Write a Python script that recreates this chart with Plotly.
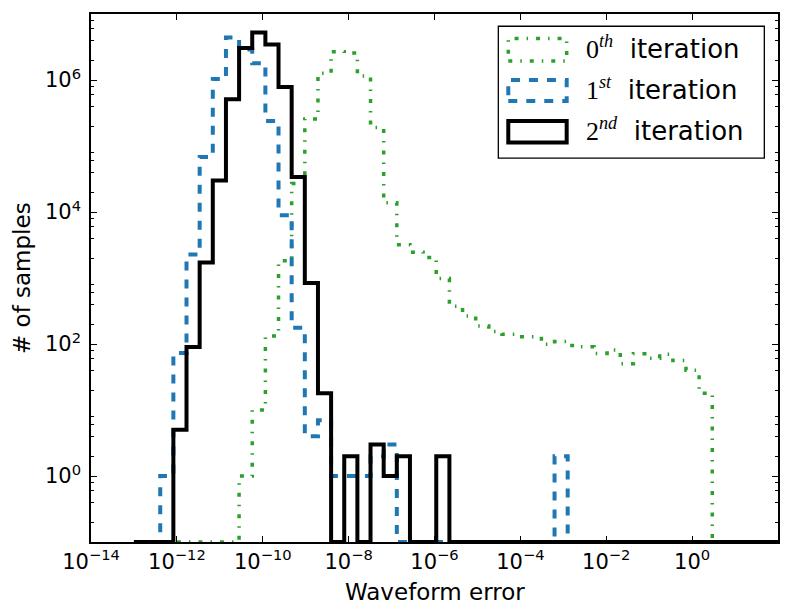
import numpy as np
import plotly.graph_objects as go

# ---- histogram bins (log10 of first / last edge, number of bins) ----
LOG_EDGE_START = -13.0
LOG_EDGE_STOP = 2.0
N_BINS = 49

# ---- counts per bin ----
counts_iter0 = [0, 0, 0, 0, 0, 0, 0, 0, 1, 10, 132, 1820, 27000, 256000, 1270000,
                2670000, 2570000, 1150000, 190000, 13800, 3190, 2460, 2050, 980, 374,
                265, 188, 154, 140, 129, 129, 99, 109, 95, 91, 72, 81, 50, 71, 61, 70,
                56, 40, 18, 0, 0, 0, 0, 0]
counts_iter1 = [0, 0, 1, 73, 2270, 68000, 1040000, 4400000, 2900000, 1800000, 240000,
                8950, 176, 4, 7, 1, 1, 1, 2, 3, 0, 0, 0, 0, 0, 0, 0, 0, 0, 0, 0, 0, 2,
                0, 0, 0, 0, 0, 0, 0, 0, 0, 0, 0, 0, 0, 0, 0, 0]
counts_iter2 = [0, 0, 0, 5, 90, 1720, 30000, 510000, 3060000, 5260000, 3440000, 780000,
                34000, 840, 18, 0, 2, 0, 3, 1, 2, 0, 0, 2, 0, 0, 0, 0, 0, 0, 0, 0, 0,
                0, 0, 0, 0, 0, 0, 0, 0, 0, 0, 0, 0, 0, 0, 0, 0]

x_tick_exponents = [-14, -12, -10, -8, -6, -4, -2, 0]
y_tick_exponents = [0, 2, 4, 6]

series_names = ["0th iteration", "1st iteration", "2nd iteration"]

edges = 10 ** np.linspace(LOG_EDGE_START, LOG_EDGE_STOP, N_BINS + 1)
Y_FLOOR = 0.1  # bottom of the y range; empty bins sit on the axis


def step_path(counts):
    xs = [edges[0]]
    ys = [Y_FLOOR]
    for i, c in enumerate(counts):
        v = c if c > 0 else Y_FLOOR
        xs += [edges[i], edges[i + 1]]
        ys += [v, v]
    xs.append(edges[-1])
    ys.append(Y_FLOOR)
    return xs, ys


GREEN = "#2ca02c"
BLUE = "#1f77b4"
BLACK = "#000000"
styles = [
    dict(color=GREEN, width=3.5, dash="4px,8px,1.5px,8px"),
    dict(color=BLUE, width=4, dash="9px,9px"),
    dict(color=BLACK, width=4, dash="solid"),
]

fig = go.Figure()
for name, cnts, st in zip(series_names, [counts_iter0, counts_iter1, counts_iter2], styles):
    xs, ys = step_path(cnts)
    fig.add_trace(go.Scatter(x=xs, y=ys, mode="lines", name=name, line=st,
                             showlegend=False, hoverinfo="skip"))

FONT = "DejaVu Sans"

x_tickvals = [10.0 ** e for e in x_tick_exponents]
x_ticktext = ["10<sup>%s</sup>" % (str(e).replace("-", "\u2212")) for e in x_tick_exponents]
y_tickvals = [10.0 ** e for e in y_tick_exponents]
y_ticktext = ["10<sup>%d</sup>" % e for e in y_tick_exponents]
y_minor = [k * 10.0 ** n for n in range(-1, 7) for k in (2, 4, 6, 8)]

# the page body has an 8px margin, so the figure is a little smaller than the window
fig.update_layout(
    width=781, height=608,
    margin=dict(l=83, r=11, t=4, b=74),
    paper_bgcolor="white", plot_bgcolor="white",
    font=dict(family=FONT, color="black"),
    showlegend=False,
    xaxis=dict(
        type="log", range=[-14, 2],
        tickmode="array", tickvals=x_tickvals, ticktext=x_ticktext,
        ticks="inside", ticklen=6, tickwidth=1, tickcolor="black",
        showline=True, linecolor="black", linewidth=1.5, mirror="ticks",
        showgrid=False, zeroline=False,
        tickfont=dict(size=21, family=FONT, color="black"),
    ),
    yaxis=dict(
        type="log", range=[-1, 7],
        tickmode="array", tickvals=y_tickvals, ticktext=y_ticktext,
        ticks="inside", ticklen=6, tickwidth=1, tickcolor="black",
        showline=True, linecolor="black", linewidth=1.5, mirror="ticks",
        showgrid=False, zeroline=False, ticklabelstandoff=4,
        tickfont=dict(size=21, family=FONT, color="black"),
        minor=dict(tickmode="array", tickvals=y_minor, ticks="inside", ticklen=3,
                   tickwidth=1, tickcolor="black", showgrid=False),
    ),
)

# axis titles
fig.add_annotation(text="Waveform error", xref="paper", yref="paper", x=0.5, y=-0.0943,
                   xanchor="center", yanchor="middle", showarrow=False,
                   font=dict(size=23, family=FONT, color="black"))
fig.add_annotation(text="# of samples", xref="paper", yref="paper", x=-0.1004, y=0.5,
                   xanchor="center", yanchor="middle", showarrow=False, textangle=-90,
                   font=dict(size=23, family=FONT, color="black"))

# legend (drawn by hand to get the rectangle symbols)
fig.add_shape(type="rect", xref="paper", yref="paper", x0=0.5929, x1=0.9801, y0=0.727, y1=0.9768,
              line=dict(color="black", width=1.3), fillcolor="white", layer="above")
leg_rows = [(0.9108, 0.9534, 0.936), (0.8353, 0.8749, 0.8587), (0.7566, 0.7975, 0.7814)]
leg_sups = [("0", "th"), ("1", "st"), ("2", "nd")]
for (y0, y1, yc), st, (num, sup) in zip(leg_rows, styles, leg_sups):
    fig.add_shape(type="rect", xref="paper", yref="paper", x0=0.6074, x1=0.6924, y0=y0, y1=y1,
                  line=dict(color=st["color"], width=st["width"], dash=st["dash"]),
                  fillcolor="rgba(0,0,0,0)", layer="above")
    txt = ('<span style="font-family:Liberation Serif">%s<sup><i>%s</i></sup></span>'
           '\u00a0\u00a0iteration' % (num, sup))
    fig.add_annotation(text=txt, xref="paper", yref="paper", x=0.718, y=yc,
                       xanchor="left", yanchor="middle", showarrow=False,
                       font=dict(size=26, family=FONT, color="black"))

fig.write_html("out.html")
